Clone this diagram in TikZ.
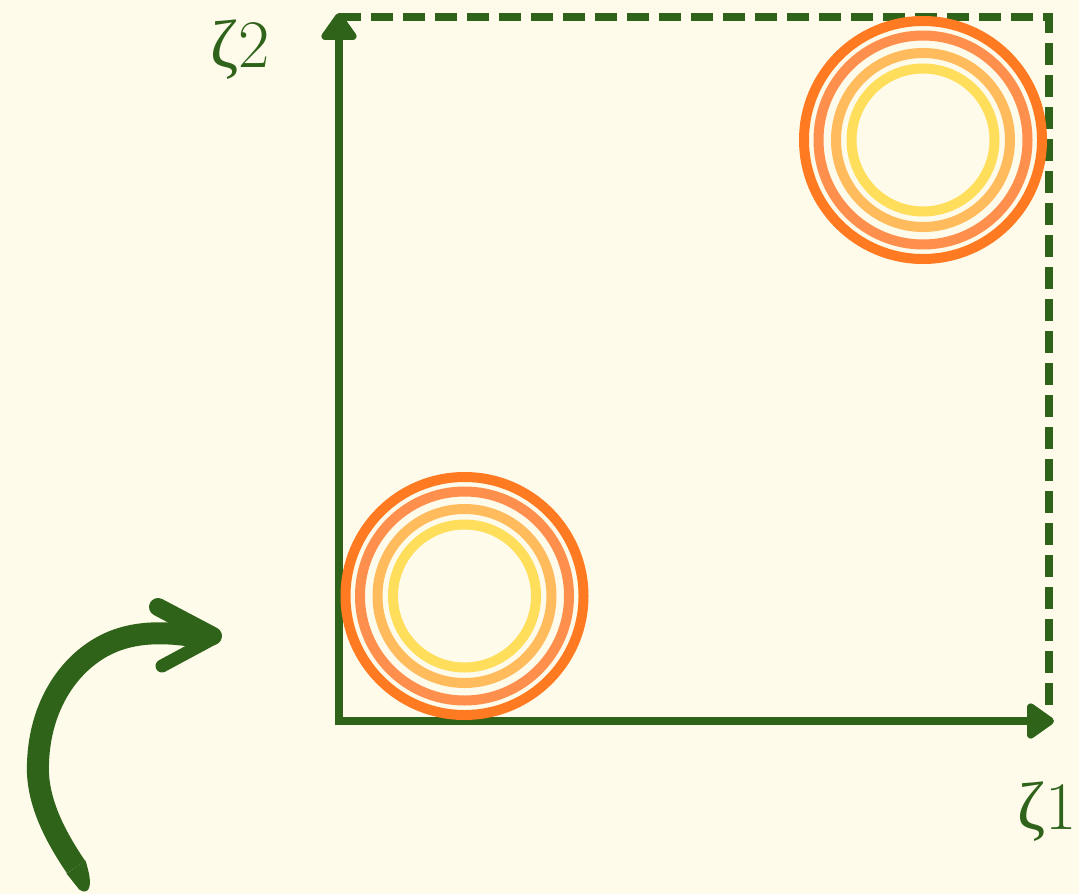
\documentclass[tikz,border=0pt]{standalone}
\usepackage{fontspec}
\newfontfamily\gk{Liberation Serif}
\usetikzlibrary{arrows.meta}
\definecolor{bg}{RGB}{254,251,235}
\definecolor{grn}{RGB}{47,99,26}
\definecolor{ringA}{RGB}{255,122,32}
\definecolor{ringB}{RGB}{255,143,76}
\definecolor{ringC}{RGB}{255,187,92}
\definecolor{ringD}{RGB}{255,222,92}
\tikzset{
  axis/.style={draw=grn, line width=8pt, -{Triangle[length=30pt,width=40pt,round]}},
  frame/.style={draw=grn, line width=7.5pt, dash pattern=on 22pt off 10pt},
  lbl/.style={text=grn, font=\fontsize{68}{80}\selectfont, inner sep=0pt},
  rA/.style={draw=ringA, line width=10pt},
  rB/.style={draw=ringB, line width=10pt},
  rC/.style={draw=ringC, line width=10pt},
  rD/.style={draw=ringD, line width=10pt},
  sweep/.style={draw=grn, line width=22pt},
}
\begin{document}
\begin{tikzpicture}[x=1pt,y=-1pt]
\fill[bg] (0,0) rectangle (1079,894);
\useasboundingbox (0,0) rectangle (1079,894);
% coordinates
\coordinate (O) at (339,721);
\coordinate (Ob) at (339,725);
\coordinate (Ytop) at (339,13);
\coordinate (Xend) at (1054,721);
\coordinate (TL) at (339,17);
\coordinate (TR) at (1049,17);
\coordinate (BR) at (1049,712);
\coordinate (C1) at (464.5,596);
\coordinate (C2) at (923,140);
\coordinate (tail) at (76,867);
\coordinate (tailA) at (66.5,873.5);
\coordinate (tailB) at (85.5,860.5);
\coordinate (tailend) at (88,890);
\coordinate (bend) at (38,763);
\coordinate (mid) at (117,640);
\coordinate (hd) at (200,637);
% dashed frame
\draw[frame] (TL) -- (TR) -- (BR);
% axes
\draw[axis] (Ob) -- (Ytop);
\draw[axis] (O) -- (Xend);
% rings
\foreach \c in {C1,C2}{
  \draw[rA] (\c) circle[radius=119];
  \draw[rB] (\c) circle[radius=104.5];
  \draw[rC] (\c) circle[radius=87];
  \draw[rD] (\c) circle[radius=71.5];
}
% labels
\node[lbl] (l2) at (240,50) {{\gk ζ}2};
\node[lbl] (l1) at (1047,812) {{\gk ζ}1};
% hand-drawn curved arrow
\draw[sweep] (tail) .. controls (55,836) and (36,800) .. (bend)
  .. controls (40,700) and (75,655) .. (mid)
  .. controls (145,630) and (175,633) .. (hd);
\fill[grn] (tailA) -- (tailB) .. controls (89,872) and (92,884) .. (tailend)
  .. controls (85,893) and (80,891) .. (78,888) -- cycle;
\draw[grn, line width=18pt, line cap=round] (158,607) -- (213,636);
\draw[grn, line width=13pt, line cap=round] (162,666) -- (214,638);
\end{tikzpicture}
\end{document}
